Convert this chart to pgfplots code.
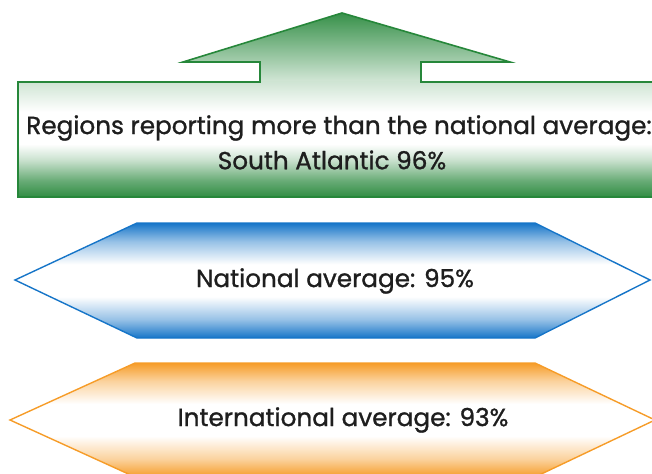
\documentclass[border=0pt]{standalone}
\usepackage{pgfplots}
\pgfplotsset{compat=1.18}
\usepackage{fontspec}
\setmainfont{Poppins}
\newfontfamily\lab[FakeBold=1.1]{Poppins}
\definecolor{gdark}{RGB}{38,135,58}
\definecolor{bdark}{RGB}{22,117,200}
\definecolor{odark}{RGB}{246,156,40}
\definecolor{txt}{RGB}{30,30,30}
% vertical shadings: the 25bp..75bp band is fitted to the shape
\pgfdeclareverticalshading{gbox}{100bp}{color(0bp)=(gdark); color(25bp)=(gdark!95!white);
  color(32bp)=(gdark!70!white); color(41bp)=(gdark!25!white); color(48bp)=(white);
  color(62bp)=(white); color(75bp)=(gdark!22!white); color(100bp)=(gdark!22!white)}
\pgfdeclareverticalshading{hexb}{100bp}{color(0bp)=(bdark); color(25bp)=(bdark);
  color(33bp)=(bdark!45!white); color(43bp)=(white); color(57bp)=(white);
  color(67bp)=(bdark!45!white); color(75bp)=(bdark); color(100bp)=(bdark)}
\pgfdeclareverticalshading{hexo}{100bp}{color(0bp)=(odark); color(25bp)=(odark);
  color(33bp)=(odark!45!white); color(43bp)=(white); color(57bp)=(white);
  color(67bp)=(odark!45!white); color(75bp)=(odark); color(100bp)=(odark)}
\begin{document}
\begin{tikzpicture}
\begin{axis}[
    width=652bp, height=474bp, scale only axis,
    xmin=0, xmax=652, ymin=0, ymax=474,
    y dir=reverse,
    hide axis,
    clip=true,
]
% --- green up-arrow: head and stem ---
\addplot[draw=none, top color=gdark!92, bottom color=gdark!18]
    coordinates {(260,84) (260,62) (183,62) (342,13) (510,62) (421,62) (421,84)} -- cycle;
% box
\addplot[draw=none, shading=gbox]
    coordinates {(18,82) (670,82) (670,197) (18,197)} -- cycle;
% outline
\addplot[gdark, line width=1.6pt, line join=miter]
    coordinates {(18,82) (260,82) (260,62) (183,62) (342,13) (510,62) (421,62)
                 (421,82) (680,82) (680,197) (18,197)} -- cycle;

% --- national average (blue) ---
\addplot[draw=bdark, line width=1.4pt, shading=hexb]
    coordinates {(15,280) (137,223) (535,223) (650,280) (535,338) (137,338)} -- cycle;

% --- international average (orange) ---
\addplot[draw=odark, line width=1.4pt, shading=hexo]
    coordinates {(10,420) (135,363) (535,363) (655,420) (535,477) (135,477)} -- cycle;

% --- labels ---
\node[text=txt, font=\lab\fontsize{24.8}{29}\selectfont] at (axis cs:339,128)
    {Regions reporting more than the national average:};
\node[text=txt, font=\lab\fontsize{24.8}{29}\selectfont] at (axis cs:332,160)
    {South Atlantic 96\%};
\node[text=txt, font=\lab\fontsize{24.8}{29}\selectfont] at (axis cs:335,281)
    {National average: 95\%};
\node[text=txt, font=\lab\fontsize{24.8}{29}\selectfont] at (axis cs:343,420)
    {International average: 93\%};
\end{axis}
\pgfresetboundingbox
\path[use as bounding box] (current axis.south west) rectangle (current axis.north east);
\end{tikzpicture}
\end{document}
